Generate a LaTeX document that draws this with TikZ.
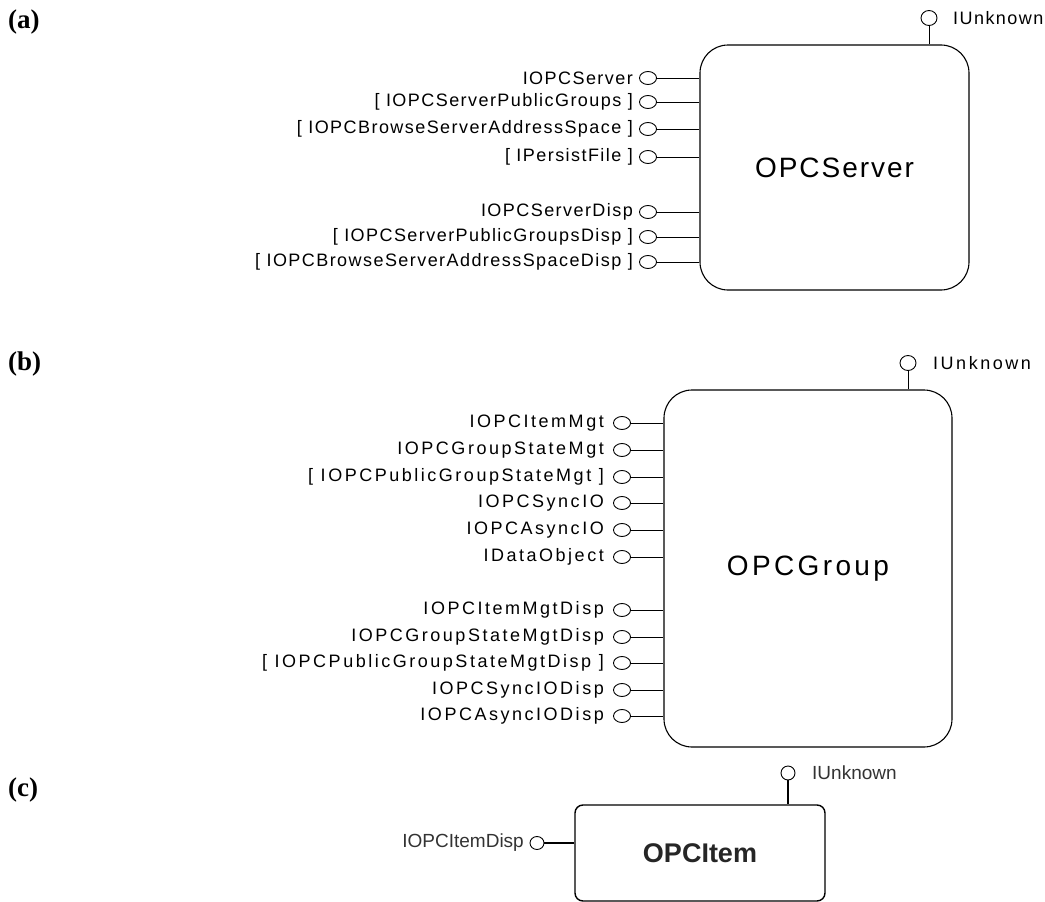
\documentclass[tikz,border=0pt]{standalone}
\usepackage{fontspec}
\usetikzlibrary{shapes.geometric,positioning,calc}
\setmainfont{Liberation Sans}
\newfontfamily\lsa[LetterSpace=8]{Liberation Sans}
\newfontfamily\lsb[LetterSpace=14]{Liberation Sans}
\newfontfamily\lsbig[LetterSpace=7]{Liberation Sans}
\newfontfamily\lsgrp[LetterSpace=12]{Liberation Sans}
\newfontfamily\plain{Liberation Sans}
\newfontfamily\serifb{Liberation Serif}
\begin{document}
\begin{tikzpicture}[x=1pt,y=-1pt,
  obox/.style={draw,line width=1.1pt,rounded corners=28pt,inner sep=0pt},
  lolli/.style={draw,ellipse,line width=0.9pt,minimum width=17pt,minimum height=13pt,inner sep=0pt},
  lolliu/.style={draw,ellipse,line width=0.9pt,minimum width=16pt,minimum height=15pt,inner sep=0pt},
  wire/.style={line width=1pt},
  lbla/.style={font=\lsa\fontsize{18}{20}\selectfont,inner sep=0pt,anchor=east},
  lblb/.style={font=\lsb\fontsize{18}{20}\selectfont,inner sep=0pt,anchor=east},
  tag/.style={font=\serifb\bfseries\fontsize{27}{30}\selectfont,inner sep=0pt,anchor=west}
]
\useasboundingbox (0,0) rectangle (1045,902);

% ---------------- (a) ----------------
\node[tag] (ta) at (8,22) {(a)};
\node[obox,minimum width=269pt,minimum height=245pt,font=\lsbig\fontsize{28}{30}\selectfont] (A) at (834.5,167.5) {OPCServer};
\node[lolliu] (Au) at (929,18) {};
\draw[wire] (Au.south) -- (Au.south |- A.north);
\node[font=\lsa\fontsize{18}{20}\selectfont,inner sep=0pt,anchor=west] (Aut) at (953,18) {IUnknown};

\foreach \i/\y/\t in {1/78/IOPCServer, 2/102/{[ IOPCServerPublicGroups ]}, 3/129/{[ IOPCBrowseServerAddressSpace ]}, 4/157/{[ IPersistFile ]}, 5/212/IOPCServerDisp, 6/237/{[ IOPCServerPublicGroupsDisp ]}, 7/262/{[ IOPCBrowseServerAddressSpaceDisp ]}}{
  \node[lolli] (Ac\i) at (648,\y) {};
  \draw[wire] (Ac\i.east) -- (Ac\i.east -| A.west);
  \node[lbla] (Al\i) at (633,\y) {\t};
}

% ---------------- (b) ----------------
\node[tag] (tb) at (8,364) {(b)};
\node[obox,minimum width=288pt,minimum height=357pt,font=\lsgrp\fontsize{28}{30}\selectfont] (B) at (808,568.5) {OPCGroup};
\node[lolliu] (Bu) at (908,363) {};
\draw[wire] (Bu.south) -- (Bu.south |- B.north);
\node[font=\lsb\fontsize{18}{20}\selectfont,inner sep=0pt,anchor=west] (But) at (933,363) {IUnknown};

\foreach \i/\y/\t in {1/423/IOPCItemMgt, 2/450/IOPCGroupStateMgt, 3/477/{[ IOPCPublicGroupStateMgt ]}, 4/503/IOPCSyncIO, 5/530/IOPCAsyncIO, 6/557/IDataObject, 7/610/IOPCItemMgtDisp, 8/637/IOPCGroupStateMgtDisp, 9/663/{[ IOPCPublicGroupStateMgtDisp ]}, 10/690/IOPCSyncIODisp, 11/716/IOPCAsyncIODisp}{
  \node[lolli] (Bc\i) at (622,\y) {};
  \draw[wire] (Bc\i.east) -- (Bc\i.east -| B.west);
  \node[lblb] (Bl\i) at (604,\y) {\t};
}

% ---------------- (c) ----------------
\node[tag] (tc) at (8,790) {(c)};
\node[draw,line width=1.4pt,rounded corners=8pt,inner sep=0pt,minimum width=250pt,minimum height=96pt,font=\plain\bfseries\fontsize{27}{30}\selectfont,text=black!85] (C) at (700,853) {OPCItem};
\node[lolliu,minimum width=14pt,minimum height=14pt] (Cu) at (788,773) {};
\draw[line width=1.2pt] (Cu.south) -- (Cu.south |- C.north);
\node[font=\plain\fontsize{19}{22}\selectfont,inner sep=0pt,anchor=west,text=black!80] (Cut) at (812,773) {IUnknown};
\node[lolli,minimum width=14pt,minimum height=13pt] (Cc1) at (537,843) {};
\draw[line width=1.2pt] (Cc1.east) -- (Cc1.east -| C.west);
\node[font=\plain\fontsize{19}{22}\selectfont,inner sep=0pt,anchor=east,text=black!80] (Cl1) at (524,843) {IOPCItemDisp};
\end{tikzpicture}
\end{document}
